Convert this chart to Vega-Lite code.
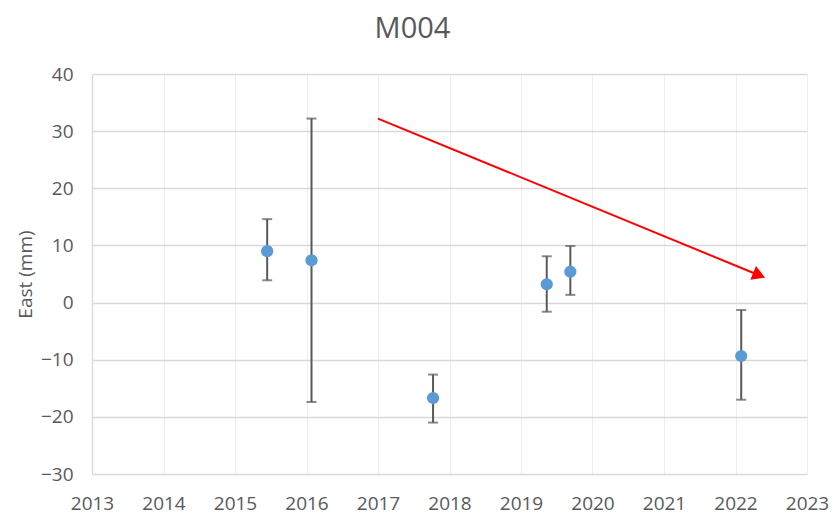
{
  "$schema": "https://vega.github.io/schema/vega-lite/v6.json",
  "autosize": "none",
  "width": 715,
  "height": 400,
  "padding": {"left": 92, "top": 74, "right": 28, "bottom": 44},
  "background": "white",
  "config": {
    "view": {"stroke": null},
    "font": "Open Sans",
    "axis": {"labelColor": "#595959", "titleColor": "#595959", "labelFont": "Open Sans", "titleFont": "Open Sans", "labelFontWeight": "normal", "titleFontWeight": "normal"}
  },
  "title": {
    "text": "M004",
    "fontSize": 29,
    "font": "Open Sans",
    "fontWeight": "normal",
    "color": "#595959",
    "anchor": "middle",
    "dx": -37,
    "offset": 21
  },
  "datasets": {
    "obs": [
      {"year": 2015.45, "east": 9.0, "lo": 3.9, "hi": 14.6},
      {"year": 2016.07, "east": 7.4, "lo": -17.4, "hi": 32.2},
      {"year": 2017.77, "east": -16.7, "lo": -21.0, "hi": -12.6},
      {"year": 2019.36, "east": 3.2, "lo": -1.6, "hi": 8.1},
      {"year": 2019.69, "east": 5.4, "lo": 1.35, "hi": 9.9},
      {"year": 2022.08, "east": -9.35, "lo": -17.0, "hi": -1.3}
    ],
    "arrow": [
      {"year": 2017.0, "east": 32.2},
      {"year": 2022.33, "east": 4.78}
    ],
    "head": [
      {"year": 2022.33, "east": 4.78}
    ]
  },
  "layer": [
    {
      "data": {"name": "obs"},
      "mark": {"type": "rule", "color": "#595959", "strokeWidth": 2},
      "encoding": {
        "x": {
          "field": "year", "type": "quantitative",
          "scale": {"domain": [2013, 2023], "nice": false, "zero": false},
          "axis": {
            "title": null, "values": [2013,2014,2015,2016,2017,2018,2019,2020,2021,2022,2023],
            "format": "d", "labelFontSize": 19, "labelPadding": 20, "ticks": false, "domain": false,
            "grid": true, "gridColor": "#eeeeee", "gridWidth": 1, "labelFlush": false
          }
        },
        "y": {
          "field": "lo", "type": "quantitative",
          "scale": {"domain": [-30, 40], "nice": false, "zero": false},
          "axis": {
            "title": "East (mm)", "titleFontSize": 19, "titlePadding": 5,
            "values": [-30,-20,-10,0,10,20,30,40],
            "labelFontSize": 19, "labelPadding": 19, "ticks": false,
            "domain": true, "domainColor": "#d9d9d9", "domainWidth": 1.3,
            "grid": true, "gridColor": "#d9d9d9", "gridWidth": 1.3
          }
        },
        "y2": {"field": "hi"}
      }
    },
    {
      "data": {"name": "obs"},
      "mark": {"type": "tick", "orient": "horizontal", "color": "#595959", "thickness": 2, "size": 10},
      "encoding": {
        "x": {"field": "year", "type": "quantitative"},
        "y": {"field": "lo", "type": "quantitative"}
      }
    },
    {
      "data": {"name": "obs"},
      "mark": {"type": "tick", "orient": "horizontal", "color": "#595959", "thickness": 2, "size": 10},
      "encoding": {
        "x": {"field": "year", "type": "quantitative"},
        "y": {"field": "hi", "type": "quantitative"}
      }
    },
    {
      "data": {"name": "obs"},
      "mark": {"type": "circle", "color": "#5b9bd5", "opacity": 1, "size": 150},
      "encoding": {
        "x": {"field": "year", "type": "quantitative"},
        "y": {"field": "east", "type": "quantitative"}
      }
    },
    {
      "data": {"name": "arrow"},
      "mark": {"type": "line", "color": "#ff0000", "strokeWidth": 2},
      "encoding": {
        "x": {"field": "year", "type": "quantitative"},
        "y": {"field": "east", "type": "quantitative"}
      }
    },
    {
      "data": {"name": "head"},
      "mark": {"type": "point", "shape": "triangle-right", "filled": true, "color": "#ff0000", "opacity": 1, "size": 220, "angle": 22.3},
      "encoding": {
        "x": {"field": "year", "type": "quantitative"},
        "y": {"field": "east", "type": "quantitative"}
      }
    }
  ]
}
